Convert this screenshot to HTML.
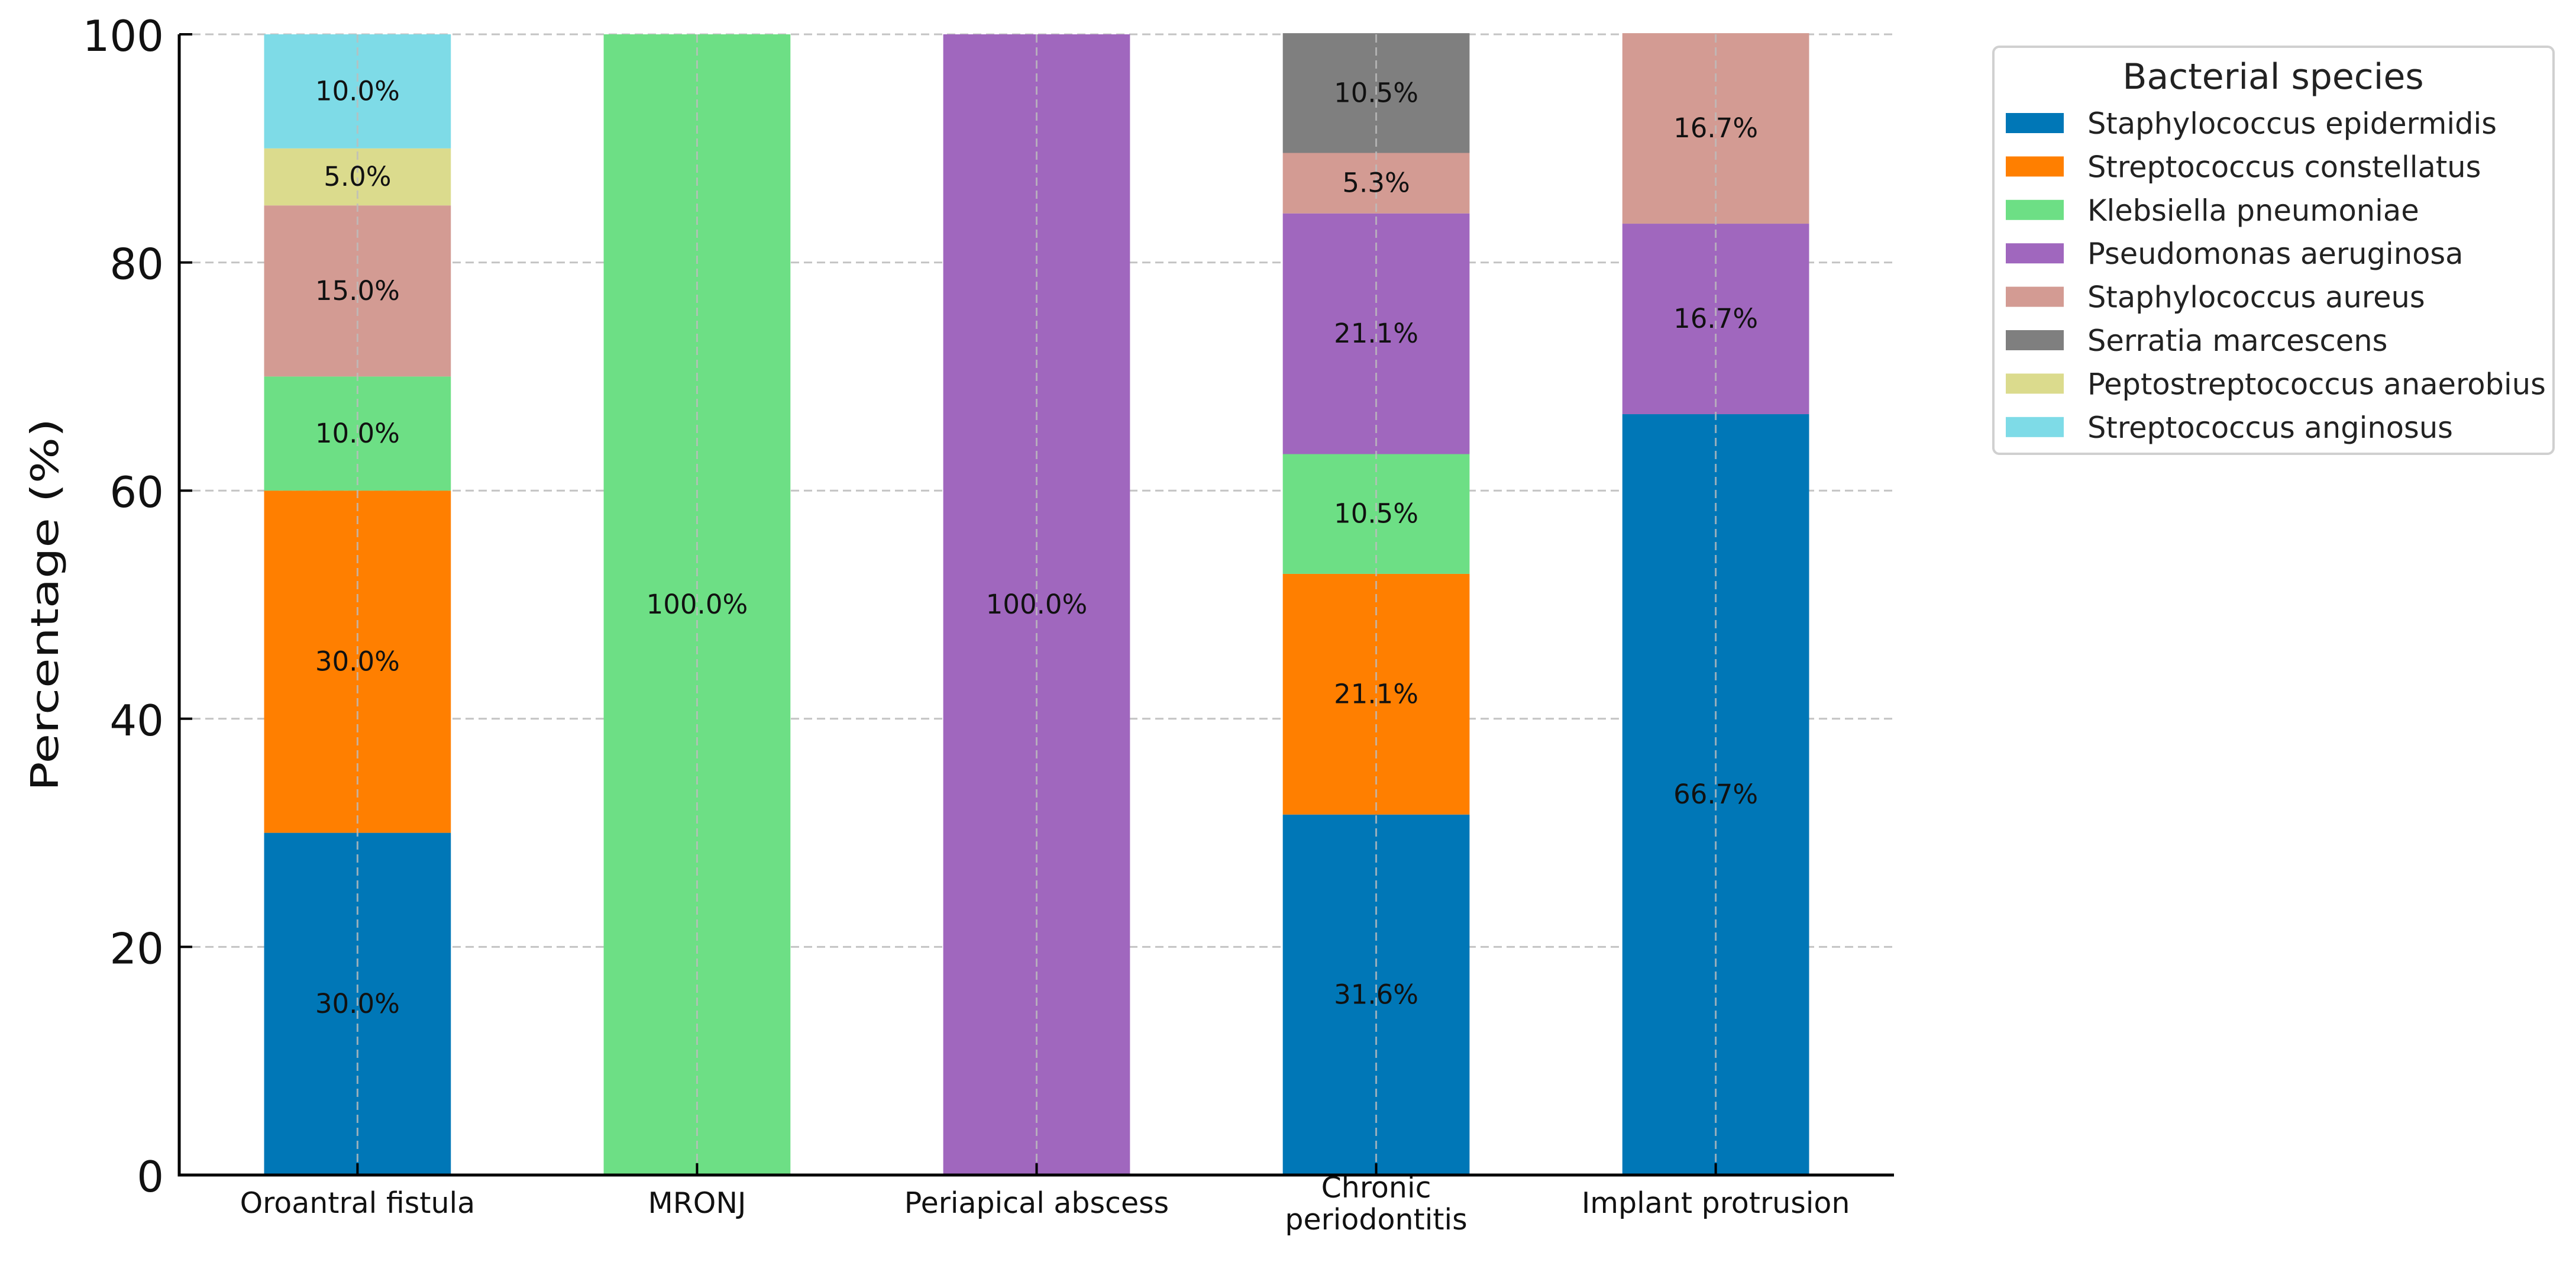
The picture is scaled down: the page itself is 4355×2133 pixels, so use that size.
<!DOCTYPE html>
<html><head><meta charset="utf-8"><style>
html,body{margin:0;padding:0;background:#fff}
svg{display:block}
text{font-family:"DejaVu Sans","Liberation Sans",sans-serif}
</style></head><body>
<svg id="chart" width="4355" height="2133" viewBox="0 0 4355 2133" xmlns="http://www.w3.org/2000/svg">
<g id="grid"></g>
<g id="bars"></g>
<g id="gridv"></g>
<g id="labels"></g>
<g id="axes"></g>
<text x="0" y="0" transform="translate(98,1022) rotate(-90)" text-anchor="middle" font-size="64" fill="#111" textLength="630" lengthAdjust="spacingAndGlyphs">Percentage (%)</text>
<g id="legend"></g>
</svg>
<script>
const categories = ["Oroantral fistula","MRONJ","Periapical abscess","Chronic\nperiodontitis","Implant protrusion"];
const species = ["Staphylococcus epidermidis","Streptococcus constellatus","Klebsiella pneumoniae","Pseudomonas aeruginosa","Staphylococcus aureus","Serratia marcescens","Peptostreptococcus anaerobius","Streptococcus anginosus"];
const colors = ["#0077b7","#ff7f00","#6ddf85","#a067be","#d39b93","#7f7f7f","#dbdb8d","#7edbe7"];
const sEpidermidis = [30.0,0,0,31.6,66.7];
const sConstellatus = [30.0,0,0,21.1,0];
const kPneumoniae = [10.0,100.0,0,10.5,0];
const pAeruginosa = [0,0,100.0,21.1,16.7];
const sAureus = [15.0,0,0,5.3,16.7];
const sMarcescens = [0,0,0,10.5,0];
const pAnaerobius = [5.0,0,0,0,0];
const sAnginosus = [10.0,0,0,0,0];
const yTicks = [0,20,40,60,80,100];

const series = [sEpidermidis,sConstellatus,kPneumoniae,pAeruginosa,sAureus,sMarcescens,pAnaerobius,sAnginosus];
const NS="http://www.w3.org/2000/svg";
const X0=303, X1=3202, Y0=1986, Y1=58;
const n=categories.length, barW=0.55;
const xmin=-0.525, xmax=n-1+0.525;
function xs(v){return X0+(v-xmin)/(xmax-xmin)*(X1-X0);}
function ys(v){return Y0-(v/100)*(Y0-Y1);}
function mk(tag,attrs,parent){const e=document.createElementNS(NS,tag);for(const k in attrs)e.setAttribute(k,attrs[k]);parent.appendChild(e);return e;}
const grid=document.getElementById('grid'),gridv=document.getElementById('gridv'),bars=document.getElementById('bars'),labels=document.getElementById('labels'),axes=document.getElementById('axes'),legend=document.getElementById('legend');

yTicks.forEach(t=>{
  const l=mk('line',{x1:X0,x2:X1,y1:ys(t),y2:ys(t),stroke:"#c4c4c4","stroke-width":3,"stroke-dasharray":"14,8"},grid);
  
  
  const tk=mk('line',{x1:X0,x2:X0+22,y1:ys(t),y2:ys(t),stroke:"#000","stroke-width":4},axes);
  
  
  const tx=mk('text',{x:X0-26,y:ys(t)+28,"text-anchor":"end","font-size":72,fill:"#111"},axes);
  tx.textContent=t;
  
  
});

categories.forEach((c,i)=>{
  let base=0;
  const xl=xs(i-barW/2), w=xs(i+barW/2)-xl;
  series.forEach((s,j)=>{
    const v=s[i]; if(!v) return;
    const r=mk('rect',{x:xl,y:ys(base+v),width:w,height:ys(base)-ys(base+v),fill:colors[j]},bars);
    
    
    const t=mk('text',{x:xs(i),y:(ys(base)+ys(base+v))/2+15,"text-anchor":"middle","font-size":45,fill:"#111"},labels);
    t.textContent=v.toFixed(1)+"%";
    
    
    base+=v;
  });
  const g=mk('line',{x1:xs(i),x2:xs(i),y1:Y1,y2:Y0,stroke:"#bdbdbd","stroke-width":3,"stroke-dasharray":"14,8","stroke-opacity":0.8},gridv);
  
  
  const tk=mk('line',{x1:xs(i),x2:xs(i),y1:Y0,y2:Y0-20,stroke:"#000","stroke-width":4},axes);
  
  
  const lines=c.split("\n");
  lines.forEach((ln,k)=>{
    const y = lines.length===1 ? 2050 : 2024+k*54;
    const t=mk('text',{x:xs(i),y:y,"text-anchor":"middle","font-size":49,fill:"#111"},axes);
    t.textContent=ln;
    
    
  });
});

const ax=mk('path',{d:`M${X0},${Y1} V${Y0} H${X1}`,fill:"none",stroke:"#000","stroke-width":5},axes);



const box=mk('rect',{x:3370,y:79,width:947,height:688,rx:10,fill:"#fff",stroke:"#d0d0d0","stroke-width":4},legend);


const title=mk('text',{x:3843,y:150,"text-anchor":"middle","font-size":60,fill:"#222"},legend);
title.textContent="Bacterial species";


species.forEach((s,j)=>{
  const cy=208+j*73.4;
  const sw=mk('rect',{x:3391,y:cy-17,width:98,height:34,fill:colors[j]},legend);
  
  
  const t=mk('text',{x:3529,y:cy+18,"font-size":49.5,fill:"#222"},legend);
  t.textContent=s;
  
  
});
</script>
</body></html>
